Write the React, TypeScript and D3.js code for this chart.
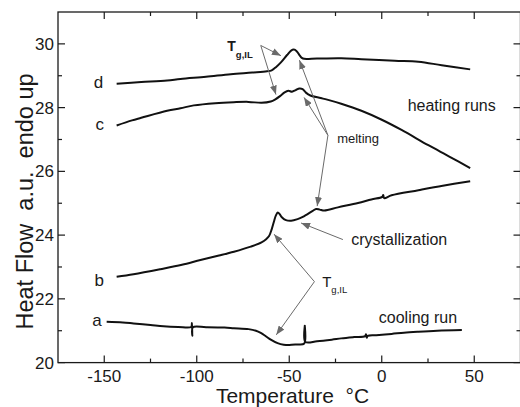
import React from "react";
import * as d3 from "d3";

// DSC traces: [temperature °C, heat flow a.u.]
const curveD: [number, number][] = [
  [-143.3, 28.75], [-130, 28.8], [-116, 28.85], [-108.8, 28.9], [-95, 28.97],
  [-81.6, 29.05], [-70, 29.1], [-62, 29.14], [-59.5, 29.17], [-57.2, 29.27],
  [-54.5, 29.42], [-51.2, 29.65], [-49, 29.79], [-47.5, 29.82], [-46, 29.77],
  [-44.5, 29.65], [-43.2, 29.56], [-41.9, 29.53], [-35, 29.54], [-21.9, 29.55],
  [-11, 29.52], [7, 29.47], [19.8, 29.44], [32.4, 29.33], [47.8, 29.2],
];

const curveC: [number, number][] = [
  [-143.3, 27.44], [-135, 27.6], [-130, 27.68], [-116, 27.9], [-108.8, 27.98],
  [-101.6, 28.07], [-90, 28.14], [-80, 28.17], [-72, 28.18], [-65, 28.15],
  [-60, 28.19], [-57.5, 28.26], [-55, 28.36], [-52.5, 28.48], [-50.5, 28.53],
  [-48.5, 28.5], [-46.5, 28.55], [-44.5, 28.6], [-42.8, 28.58], [-41, 28.47],
  [-38.6, 28.38], [-33, 28.3], [-29.5, 28.25], [-21.9, 28.12], [-11, 27.9],
  [0, 27.62], [10.7, 27.3], [25.2, 26.82], [37, 26.45], [47.8, 26.1],
];

const curveB: [number, number][] = [
  [-143.3, 22.69], [-134.2, 22.77], [-119.7, 22.93], [-108, 23.07], [-98, 23.22],
  [-88, 23.36], [-79.9, 23.48], [-70.8, 23.64], [-65, 23.77], [-62.5, 23.87],
  [-60.9, 23.97], [-59.5, 24.18], [-58.3, 24.42], [-57.2, 24.62], [-56.2, 24.71],
  [-55.2, 24.66], [-54, 24.56], [-51.8, 24.47], [-49, 24.45], [-45.5, 24.5],
  [-42.7, 24.57], [-37.3, 24.76], [-35.5, 24.82], [-33.5, 24.8], [-31, 24.77],
  [-23.7, 24.87], [-12.8, 25.01], [-5.6, 25.12], [0.3, 25.2], [0.8, 25.26],
  [1.3, 25.16], [5.3, 25.25], [19.8, 25.41], [33, 25.55], [47.8, 25.69],
];

const curveA: [number, number][] = [
  [-148.7, 21.28], [-140, 21.26], [-134.2, 21.23], [-125, 21.18], [-118, 21.14],
  [-110, 21.12], [-103, 21.12], [-102.6, 21.24], [-102.4, 20.84], [-102.1, 21.11],
  [-95, 21.11], [-85, 21.1], [-79.9, 21.08], [-72, 21.05], [-68, 21.0],
  [-65.4, 20.93], [-62.5, 20.82], [-60, 20.72], [-56.3, 20.61], [-53, 20.56],
  [-50, 20.55], [-46, 20.57], [-41.9, 20.6], [-41.6, 21.16], [-41.3, 20.65],
  [-35, 20.67], [-27, 20.72], [-21.9, 20.76], [-15, 20.8], [-9, 20.83],
  [-8.5, 20.89], [-8.1, 20.78], [-7.6, 20.84], [-3, 20.86], [5.3, 20.9],
  [12, 20.94], [19.8, 20.97], [30, 21.0], [43.3, 21.02],
];

const curveNames = ["a", "b", "c", "d"];
const curveLabelAt: [number, number][] = [[-151.4, 21.16], [-150.2, 22.4], [-150.2, 27.29], [-150.5, 28.6]];

const tempTicks = [-150, -100, -50, 0, 50];
const tempMinor = [-125, -75, -25, 25];
const hfTicks = [20, 22, 24, 26, 28, 30];
const hfMinor = [21, 23, 25, 27, 29];

// annotation arrows: [from, to] in data units
const tgTopArrows: [number, number][][] = [
  [[-65.4, 29.95], [-54.5, 29.63]],
  [[-65.4, 29.95], [-57.2, 28.41]],
];
const meltArrows: [number, number][][] = [
  [[-29.1, 27.13], [-44.5, 29.49]],
  [[-29.1, 27.13], [-42.0, 28.32]],
  [[-29.1, 27.13], [-34.9, 24.91]],
];
const crystArrow: [number, number][][] = [[[-21, 23.86], [-43.6, 24.38]]];
const tgLowArrows: [number, number][][] = [
  [[-36.4, 22.54], [-58.2, 24.03]],
  [[-36.4, 22.54], [-57.0, 20.87]],
];

const FONT = "'Liberation Sans', Arial, Helvetica, sans-serif";
const INK = "#1a1a1a";
const ARROW = "#6a6a6a";

export default function App() {
  const W = 520, H = 407;
  const x = d3.scaleLinear().domain([-175, 75]).range([58, 520.5]);
  const y = d3.scaleLinear().domain([20, 31]).range([362.6, 12]);
  const line = d3
    .line<[number, number]>()
    .x((d) => x(d[0]))
    .y((d) => y(d[1]))
    .curve(d3.curveCatmullRom.alpha(0.5));

  const x0 = x.range()[0], x1 = x.range()[1];
  const y0 = y.range()[0], y1 = y.range()[1];
  const major = 7, minor = 4;

  const arrows = [...tgTopArrows, ...meltArrows, ...crystArrow, ...tgLowArrows];

  return (
    <svg
      width={W}
      height={H}
      style={{ position: "absolute", left: 0, top: 0, background: "#fff" }}
      fontFamily={FONT}
    >
      <defs>
        <marker
          id="ahead"
          viewBox="0 0 10 10"
          refX={10}
          refY={5}
          markerWidth={9}
          markerHeight={7}
          markerUnits="userSpaceOnUse"
          orient="auto"
          preserveAspectRatio="none"
        >
          <path d="M0,0 L10,5 L0,10 z" fill={ARROW} />
        </marker>
      </defs>
      <rect x={0} y={0} width={W} height={H} fill="#fff" />

      {/* frame */}
      <rect x={x0} y={y1} width={x1 - x0} height={y0 - y1} fill="none" stroke={INK} strokeWidth={1.3} />

      {/* temperature ticks, bottom and top, pointing inward */}
      {tempTicks.map((t) => (
        <g key={"tx" + t}>
          <line x1={x(t)} x2={x(t)} y1={y0} y2={y0 - major} stroke={INK} strokeWidth={1.2} />
          <line x1={x(t)} x2={x(t)} y1={y1} y2={y1 + major} stroke={INK} strokeWidth={1.2} />
          <text x={x(t)} y={381.5} fontSize={17} textAnchor="middle" fill={INK}>
            {t < 0 ? "-" + Math.abs(t) : String(t)}
          </text>
        </g>
      ))}
      {tempMinor.map((t) => (
        <g key={"tm" + t}>
          <line x1={x(t)} x2={x(t)} y1={y0} y2={y0 - minor} stroke={INK} strokeWidth={1.2} />
          <line x1={x(t)} x2={x(t)} y1={y1} y2={y1 + minor} stroke={INK} strokeWidth={1.2} />
        </g>
      ))}

      {/* heat flow ticks, left and right */}
      {hfTicks.map((v) => (
        <g key={"hy" + v}>
          <line x1={x0} x2={x0 + major} y1={y(v)} y2={y(v)} stroke={INK} strokeWidth={1.2} />
          <line x1={x1} x2={x1 - major} y1={y(v)} y2={y(v)} stroke={INK} strokeWidth={1.2} />
          <text x={x0 - 4} y={y(v) + 6} fontSize={17} textAnchor="end" fill={INK}>
            {v}
          </text>
        </g>
      ))}
      {hfMinor.map((v) => (
        <g key={"hm" + v}>
          <line x1={x0} x2={x0 + minor} y1={y(v)} y2={y(v)} stroke={INK} strokeWidth={1.2} />
          <line x1={x1} x2={x1 - minor} y1={y(v)} y2={y(v)} stroke={INK} strokeWidth={1.2} />
        </g>
      ))}

      {/* axis titles */}
      <text x={292.5} y={403} fontSize={21} textAnchor="middle" fill={INK} style={{ whiteSpace: "pre" }}>
        {"Temperature  °C"}
      </text>
      <text
        transform="translate(32.5,201.5) rotate(-90)"
        fontSize={23.5}
        textAnchor="middle"
        fill={INK}
        style={{ whiteSpace: "pre" }}
      >
        {"Heat Flow  a.u.  endo up"}
      </text>

      {/* traces */}
      {[curveA, curveB, curveC, curveD].map((c, i) => (
        <path key={"c" + i} d={line(c) || ""} fill="none" stroke="#111" strokeWidth={2} strokeLinejoin="round" />
      ))}
      {curveNames.map((n, i) => (
        <text
          key={"n" + n}
          x={x(curveLabelAt[i][0])}
          y={y(curveLabelAt[i][1])}
          fontSize={17}
          textAnchor="end"
          fill={INK}
        >
          {n}
        </text>
      ))}

      {/* annotation arrows */}
      {arrows.map((a, i) => (
        <line
          key={"ar" + i}
          x1={x(a[0][0])}
          y1={y(a[0][1])}
          x2={x(a[1][0])}
          y2={y(a[1][1])}
          stroke={ARROW}
          strokeWidth={1}
          markerEnd="url(#ahead)"
        />
      ))}

      {/* annotation texts */}
      <text x={x(-83.5)} y={y(29.77)} fill={INK} fontWeight="bold" fontSize={14}>
        T
        <tspan fontSize={9.5} dy={6.5}>g,IL</tspan>
      </text>
      <text x={x(-32.2)} y={y(22.36)} fill={INK} fontSize={15}>
        T
        <tspan fontSize={9.5} dy={6}>g,IL</tspan>
      </text>
      <text x={x(14)} y={y(27.88)} fontSize={16} fill={INK}>heating runs</text>
      <text x={x(-24.1)} y={y(26.88)} fontSize={13} fill={INK}>melting</text>
      <text x={x(-16.5)} y={y(23.69)} fontSize={16} fill={INK}>crystallization</text>
      <text x={x(-1.6)} y={y(21.23)} fontSize={16} fill={INK}>cooling run</text>
    </svg>
  );
}
